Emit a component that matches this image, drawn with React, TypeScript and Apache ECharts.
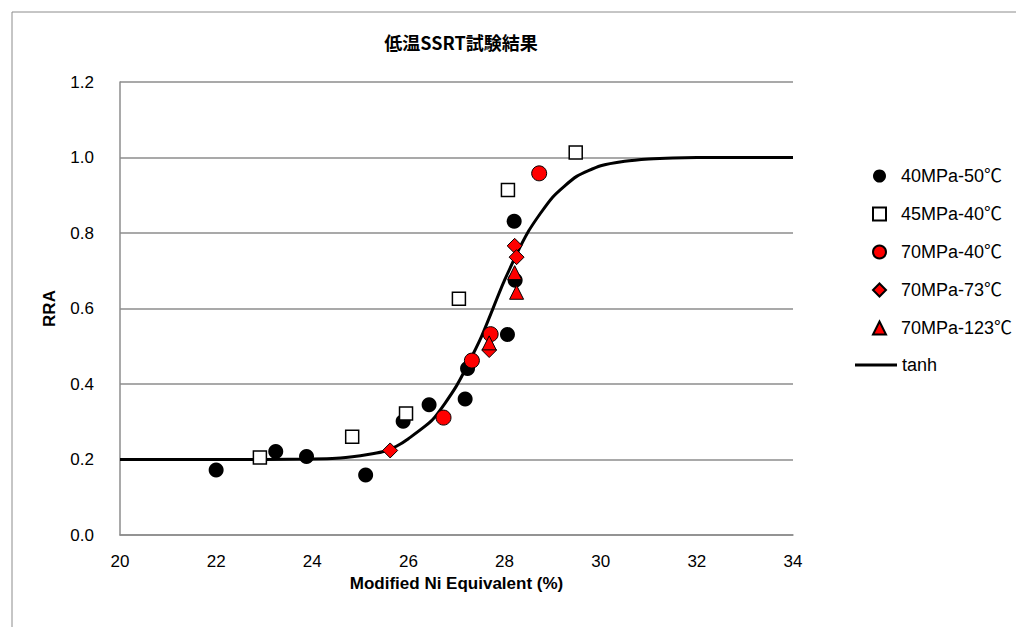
import React, { useEffect, useRef } from "react";
import * as echarts from "echarts";

const chartTitle = "低温SSRT試験結果";
const xAxisName = "Modified Ni Equivalent (%)";
const yAxisName = "RRA";

const names = ["40MPa-50℃", "45MPa-40℃", "70MPa-40℃", "70MPa-73℃", "70MPa-123℃", "tanh"];

const p40_50: [number, number][] = [
  [22.0, 0.172], [23.24, 0.221], [23.88, 0.208], [25.11, 0.159], [25.89, 0.301],
  [26.43, 0.345], [27.18, 0.36], [27.23, 0.441], [28.06, 0.531], [28.22, 0.675], [28.2, 0.831],
];
const p45_40: [number, number][] = [
  [22.91, 0.205], [24.83, 0.26], [25.95, 0.322], [27.05, 0.626], [28.07, 0.914], [29.48, 1.013],
];
const p70_40: [number, number][] = [
  [26.73, 0.311], [27.32, 0.462], [27.71, 0.532], [28.72, 0.958],
];
const p70_73: [number, number][] = [
  [25.62, 0.224], [27.68, 0.49], [28.21, 0.766], [28.25, 0.736],
];
const p70_123: [number, number][] = [
  [27.68, 0.509], [28.21, 0.695], [28.25, 0.643],
];

const tanhX = [20, 21, 22, 23, 24, 24.5, 25, 25.25, 25.5, 25.75, 26, 26.5, 27, 27.5, 28, 28.5, 29, 29.5, 30, 30.5, 31, 31.5, 32, 33, 34];
const tanhY = [0.2, 0.2, 0.2, 0.2, 0.201, 0.203, 0.21, 0.215, 0.222, 0.235, 0.255, 0.305, 0.395, 0.52, 0.675, 0.805, 0.895, 0.95, 0.978, 0.99, 0.996, 0.999, 1.0, 1.0, 1.0];

const xTicks = { min: 20, max: 34, interval: 2 };
const yTicks = { min: 0, max: 1.2, interval: 0.2 };

export default function App() {
  const ref = useRef<HTMLDivElement>(null);
  useEffect(() => {
    document.body.style.margin = "0";
    if (!ref.current) return;
    const chart = echarts.init(ref.current, undefined, { renderer: "svg" });
    const font = "'Liberation Sans', 'Noto Sans CJK JP', sans-serif";
    const gray = "#8c8c8c";
    const scatterBase = { type: "scatter", z: 3 };
    chart.setOption({
      animation: false,
      backgroundColor: "#ffffff",
      graphic: [
        {
          type: "rect",
          shape: { x: 12, y: 12, width: 1100, height: 700 },
          style: { fill: "none", stroke: gray, lineWidth: 1 },
          silent: true,
        },
      ],
      title: {
        text: chartTitle,
        left: 456,
        textAlign: "center",
        top: 28,
        textStyle: { fontFamily: "'Noto Sans CJK JP', sans-serif", fontSize: 18, fontWeight: "bold", color: "#000" },
      },
      grid: { left: 120, right: 223, top: 82, bottom: 92 },
      xAxis: {
        type: "value",
        min: xTicks.min,
        max: xTicks.max,
        interval: xTicks.interval,
        name: xAxisName,
        nameLocation: "middle",
        nameGap: 33,
        nameTextStyle: { fontFamily: font, fontSize: 17, fontWeight: "bold", color: "#000" },
        axisLine: { show: true, lineStyle: { color: gray, width: 1.5 } },
        axisTick: { show: false },
        splitLine: { show: false },
        axisLabel: { fontFamily: font, fontSize: 17, color: "#000", margin: 18 },
      },
      yAxis: {
        type: "value",
        min: yTicks.min,
        max: yTicks.max,
        interval: yTicks.interval,
        name: yAxisName,
        nameLocation: "middle",
        nameRotate: 90,
        nameGap: 62,
        nameTextStyle: { fontFamily: font, fontSize: 17, fontWeight: "bold", color: "#000" },
        axisLine: { show: true, lineStyle: { color: gray, width: 1.5 } },
        axisTick: { show: false },
        splitLine: { show: true, lineStyle: { color: gray, width: 1.5 } },
        axisLabel: {
          fontFamily: font,
          fontSize: 17,
          color: "#000",
          margin: 26,
          formatter: (v: number) => v.toFixed(1),
        },
      },
      legend: [
        {
          orient: "vertical",
          left: 867,
          top: 162,
          itemWidth: 13,
          itemHeight: 13,
          itemGap: 20,
          symbolKeepAspect: true,
          textStyle: { fontFamily: font, fontSize: 18, color: "#000", padding: [0, 0, 0, 10] },
          data: names.slice(0, 5),
        },
        {
          orient: "vertical",
          left: 850,
          top: 351,
          itemWidth: 42,
          itemHeight: 3,
          icon: "rect",
          textStyle: { fontFamily: font, fontSize: 18, color: "#000" },
          data: [names[5]],
        },
      ],
      series: [
        {
          ...scatterBase,
          name: names[0],
          symbol: "circle",
          symbolSize: 15,
          itemStyle: { color: "#000000", borderColor: "#000000", borderWidth: 0, opacity: 1 },
          data: p40_50,
        },
        {
          ...scatterBase,
          name: names[1],
          symbol: "rect",
          symbolSize: 13,
          itemStyle: { color: "#ffffff", borderColor: "#000000", borderWidth: 1.5, opacity: 1 },
          data: p45_40,
        },
        {
          ...scatterBase,
          name: names[2],
          symbol: "circle",
          symbolSize: 15,
          itemStyle: { color: "#ff0000", borderColor: "#000000", borderWidth: 1, opacity: 1 },
          data: p70_40,
        },
        {
          ...scatterBase,
          name: names[3],
          symbol: "diamond",
          symbolSize: 15,
          itemStyle: { color: "#ff0000", borderColor: "#000000", borderWidth: 1, opacity: 1 },
          data: p70_73,
        },
        {
          ...scatterBase,
          name: names[4],
          symbol: "triangle",
          symbolSize: 14,
          itemStyle: { color: "#ff0000", borderColor: "#000000", borderWidth: 1, opacity: 1 },
          data: p70_123,
        },
        {
          type: "line",
          name: names[5],
          z: 2,
          symbol: "none",
          smooth: 0.2,
          lineStyle: { color: "#000000", width: 3 },
          itemStyle: { color: "#000000" },
          data: tanhX.map((x, i) => [x, tanhY[i]]),
        },
      ],
    });
    return () => chart.dispose();
  }, []);
  return <div ref={ref} style={{ width: 1016, height: 627 }} />;
}
